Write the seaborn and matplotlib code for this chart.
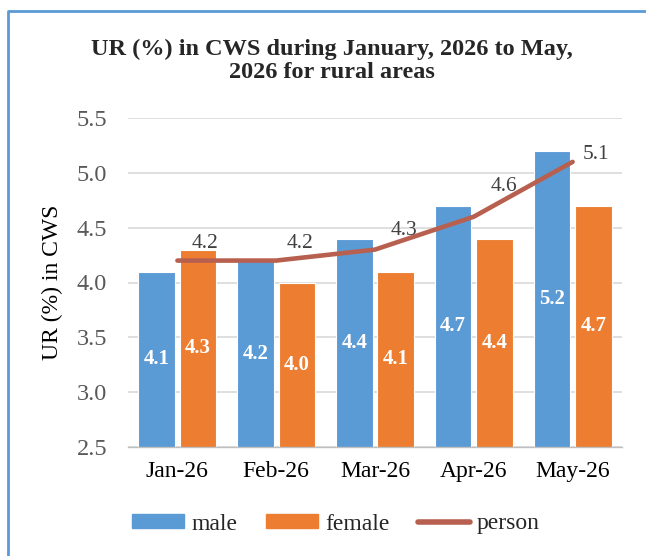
import matplotlib
matplotlib.use('Agg')
import matplotlib.pyplot as plt
from matplotlib.lines import Line2D
from matplotlib.patches import Patch
import seaborn as sns
import pandas as pd
import numpy as np

sns.set_theme(style='white')
plt.rcParams['font.family'] = ['Liberation Serif', 'DejaVu Serif']

months = ['Jan-26', 'Feb-26', 'Mar-26', 'Apr-26', 'May-26']
male = [4.1, 4.2, 4.4, 4.7, 5.2]
female = [4.3, 4.0, 4.1, 4.4, 4.7]
person = [4.2, 4.2, 4.3, 4.6, 5.1]

c_male = '#5B9BD5'
c_female = '#ED7D31'
c_person = '#B8604F'

df = pd.DataFrame({'month': months, 'person': person})
df['pos'] = np.arange(len(months))

fig = plt.figure(figsize=(6.46, 5.56), dpi=100)
ax = fig.add_axes([128 / 646, 1 - 447 / 556, (622 - 128) / 646, (447 - 118) / 556])

# bars
x = np.arange(len(months))
w = 0.37
off = 0.21
b1 = ax.bar(x - off, male, width=w, color=c_male, edgecolor='white', linewidth=0.8, zorder=2)
b2 = ax.bar(x + off, female, width=w, color=c_female, edgecolor='white', linewidth=0.8, zorder=2)

for bars in (b1, b2):
    for r in bars:
        h = r.get_height()
        ax.text(r.get_x() + r.get_width() / 2, (2.5 + h) / 2, f'{h:.1f}',
                ha='center', va='center', color='white', fontsize=15, fontweight='bold', zorder=4)

# person line
sns.lineplot(data=df, x='pos', y='person', ax=ax, color=c_person, linewidth=3.3,
             zorder=3, legend=False)
lab_off = [(20, 12), (17, 12), (21, 14), (22, 22), (17, 5)]
for i, v in enumerate(person):
    ax.annotate(f'{v:.1f}', (x[i], v), xytext=lab_off[i], textcoords='offset points',
                ha='center', va='center', color='#404040', fontsize=15.5, zorder=5)

ax.set_ylim(2.5, 5.5)
ax.set_xlim(-0.5, len(months) - 0.5)
ax.set_yticks([2.5, 3.0, 3.5, 4.0, 4.5, 5.0, 5.5])
ax.set_yticklabels([f'{t:.1f}' for t in ax.get_yticks()])
ax.yaxis.grid(True, color='#D9D9D9', linewidth=1.2, zorder=0)
ax.set_axisbelow(True)
ax.set_xticks(x)
ax.set_xticklabels(months)
ax.set_xticks(np.arange(len(months) + 1) - 0.5, minor=True)
ax.tick_params(axis='x', which='major', length=0, pad=10, labelsize=17, labelcolor='black')
ax.tick_params(axis='x', which='minor', length=6, width=1, color='#BFBFBF', direction='out')
ax.tick_params(axis='y', length=0, pad=15, labelsize=17.5, labelcolor='#595959')
ax.set_xlabel('')
ax.set_ylabel('UR (%) in CWS', fontsize=17, color='black', labelpad=10)
for s in ('top', 'right', 'left'):
    ax.spines[s].set_visible(False)
ax.spines['bottom'].set_color('#BFBFBF')
ax.spines['bottom'].set_linewidth(1)

fig.text(332 / 646, 1 - 61 / 556, 'UR (%) in CWS during January, 2026 to May,\n2026 for rural areas',
         ha='center', va='center', fontsize=17.5, fontweight='bold', linespacing=1.15)

handles = [Patch(color=c_male), Patch(color=c_female),
           Line2D([0], [0], color=c_person, linewidth=4, solid_capstyle='round')]
fig.legend(handles, ['male', 'female', 'person'], loc='center', ncol=3,
           bbox_to_anchor=(336 / 646, 1 - 524 / 556), frameon=False, fontsize=17,
           handlelength=2.2, handleheight=0.5, handletextpad=0.3, columnspacing=1.2)

# outer frame (only left and top visible)
fig.add_artist(Line2D([8 / 646, 8 / 646, 1.0], [0.0, 1 - 11 / 556, 1 - 11 / 556],
                      transform=fig.transFigure, color=c_male, linewidth=2))

fig.savefig('out.png', dpi=100)
